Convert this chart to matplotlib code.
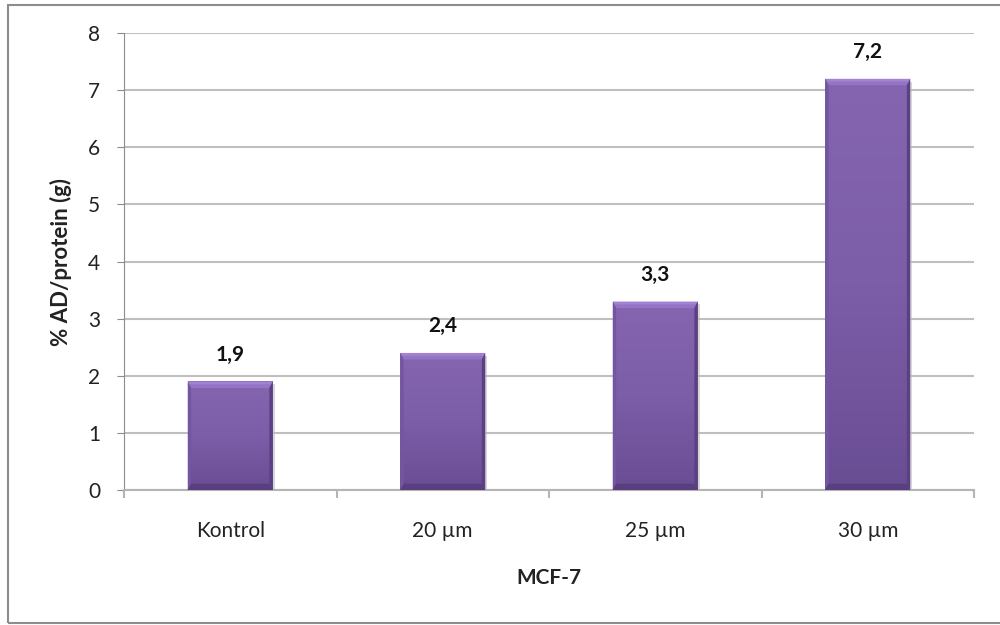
import matplotlib.pyplot as plt
import numpy as np
from matplotlib.patches import Rectangle, Polygon
from matplotlib.colors import LinearSegmentedColormap

categories = ['Kontrol', '20 µm', '25 µm', '30 µm']
values = [1.9, 2.4, 3.3, 7.2]
value_labels = ['1,9', '2,4', '3,3', '7,2']
y_ticks = [0, 1, 2, 3, 4, 5, 6, 7, 8]

plt.rcParams['font.family'] = ['Lato', 'DejaVu Sans']

fig = plt.figure(figsize=(10, 6.25), dpi=100)
ax = fig.add_axes([0.124, 0.216, 0.850, 0.731])

# outer chart frame
fig.patches.append(Rectangle((0.008, 0.004), 1.2, 0.988, transform=fig.transFigure,
                             fill=False, edgecolor='#8c8c8c', linewidth=1.5, zorder=0))

x = np.arange(len(categories))
bars = ax.bar(x, values, width=0.4, color='#7a5aa3', edgecolor='none', zorder=3)

face = LinearSegmentedColormap.from_list('face', ['#694d93', '#7c5da8', '#8565b0'])
grad = np.linspace(0, 1, 256).reshape(-1, 1)

for rect, lab in zip(bars, value_labels):
    x0, y0 = rect.get_x(), rect.get_y()
    w, h = rect.get_width(), rect.get_height()
    # drop shadow
    ax.add_patch(Rectangle((x0 + 0.01, y0 - 0.05), w, h, facecolor='#bdbdbd',
                           edgecolor='none', alpha=0.6, zorder=2))
    # vertical gradient body
    im = ax.imshow(grad, cmap=face, aspect='auto', origin='lower',
                   extent=(x0, x0 + w, y0, y0 + h), zorder=3.5)
    im.set_clip_path(rect)
    # bevel edges
    bx = w * 0.04
    by = 0.11
    top = y0 + h
    ax.add_patch(Polygon([(x0, top), (x0 + w, top), (x0 + w - bx, top - by), (x0 + bx, top - by)],
                         facecolor='#a282d2', edgecolor='none', zorder=4))
    ax.add_patch(Polygon([(x0, top - by * 0.45), (x0 + w, top - by * 0.45), (x0 + w - bx, top - by), (x0 + bx, top - by)],
                         facecolor='#9474c4', edgecolor='none', zorder=4))
    ax.add_patch(Polygon([(x0, y0), (x0, top), (x0 + bx, top - by), (x0 + bx, y0 + by)],
                         facecolor='#7456a0', edgecolor='none', zorder=4))
    ax.add_patch(Polygon([(x0 + w, y0), (x0 + w, top), (x0 + w - bx, top - by), (x0 + w - bx, y0 + by)],
                         facecolor='#5b4083', edgecolor='none', zorder=4))
    ax.add_patch(Polygon([(x0, y0), (x0 + w, y0), (x0 + w - bx, y0 + by), (x0 + bx, y0 + by)],
                         facecolor='#5a3f80', edgecolor='none', zorder=4))
    ax.annotate(lab, (x0 + w / 2, top), xytext=(0, 12), textcoords='offset points',
                ha='center', va='bottom', fontsize=15, fontweight='bold', color='#111111')

ax.set_xlim(-0.5, len(categories) - 0.5)
ax.set_ylim(0, 8)
ax.set_yticks(y_ticks)
ax.set_yticklabels([str(t) for t in y_ticks], fontsize=15, color='#222222')
ax.set_xticks(x)
ax.set_xticklabels(categories, fontsize=15, color='#222222')
ax.set_xticks(np.arange(len(categories) + 1) - 0.5, minor=True)

ax.grid(axis='y', color='#bfbfbf', linewidth=1.5, zorder=0)
ax.set_axisbelow(True)

for side in ['top', 'right']:
    ax.spines[side].set_visible(False)
ax.spines['left'].set_color('#8c8c8c')
ax.spines['bottom'].set_color('#b5b5b5')
ax.spines['bottom'].set_linewidth(1.5)

ax.tick_params(axis='y', length=5, color='#8c8c8c', pad=12)
ax.tick_params(axis='x', which='major', length=0, pad=22)
ax.tick_params(axis='x', which='minor', length=6, width=1.5, color='#b5b5b5')

ax.set_ylabel('% AD/protein (g)', fontsize=16, fontweight='bold', color='#222222', labelpad=12)
ax.set_xlabel('MCF-7', fontsize=15, fontweight='bold', color='#222222', labelpad=20)

fig.savefig('out.png', dpi=100, facecolor='white')
